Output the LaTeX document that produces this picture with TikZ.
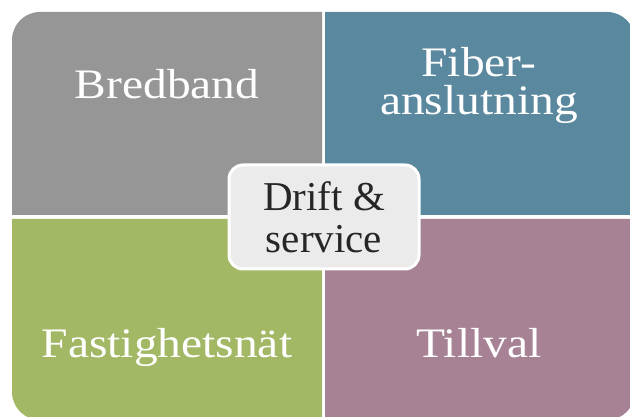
\documentclass[tikz,border=0pt]{standalone}
\usepackage{fontspec}
\setmainfont{Liberation Serif}
\newfontfamily\widefont{Liberation Serif}[FakeStretch=1.13]
\usepackage{tikz}
\usetikzlibrary{positioning}
\definecolor{bredgray}{HTML}{969696}
\definecolor{fiberblue}{HTML}{5A889F}
\definecolor{fastgreen}{HTML}{A2B864}
\definecolor{tillpurple}{HTML}{A68294}
\definecolor{driftfill}{HTML}{EBEBEB}
\definecolor{drifttext}{HTML}{262626}

\begin{document}
\begin{tikzpicture}[x=1pt,y=1pt,
    quadtext/.style={text=white,inner sep=0pt,align=center,font=\widefont\fontsize{42}{38}\selectfont},
    centerbox/.style={rectangle,rounded corners=14pt,draw=white,line width=3pt,fill=driftfill,
      minimum width=190pt,minimum height=104pt,inner sep=0pt,align=center,text=drifttext,
      font=\fontsize{41}{42}\selectfont}]
  \useasboundingbox (0,0) rectangle (630,417);
  % quadrants
  \fill[bredgray] (322,202) -- (12,202) -- (12,377) arc[start angle=180,end angle=90,radius=28] -- (322,405) -- cycle;
  \fill[fiberblue] (325,202) -- (325,405) -- (607,405) arc[start angle=90,end angle=0,radius=28] -- (635,202) -- cycle;
  \fill[fastgreen] (322,198) -- (12,198) -- (12,25) arc[start angle=180,end angle=270,radius=28] -- (322,-3) -- cycle;
  \fill[tillpurple] (325,198) -- (635,198) -- (635,25) arc[start angle=0,end angle=-90,radius=28] -- (325,-3) -- cycle;
  % labels
  \node[quadtext,anchor=base](bredband) at (167,318) {Bredband};
  \node[quadtext,anchor=base](fiber) at (479,302) {Fiber-\\anslutning};
  \node[quadtext,anchor=base](fastighetsnat) at (167,59) {Fastighetsnät};
  \node[quadtext,anchor=base](tillval) at (479,59) {Tillval};
  \node[centerbox](drift) at (324,200) {Drift \&\\service};
\end{tikzpicture}
\end{document}
